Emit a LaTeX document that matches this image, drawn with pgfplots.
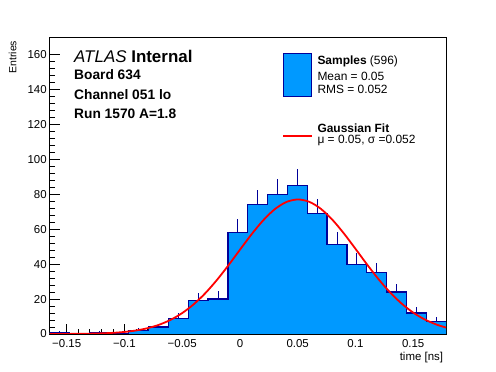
\documentclass[border=0pt]{standalone}
\usepackage{fontspec}
\setmainfont{Liberation Sans}
\usepackage{pgfplots}
\usepackage{pgfplotstable}
\pgfplotsset{compat=1.18}
\definecolor{histblue}{RGB}{0,153,255}
\definecolor{histline}{RGB}{0,0,153}
\definecolor{fitred}{RGB}{255,0,0}

\pgfplotstableread{
x y
-0.1649 1
-0.1477 0
-0.1306 1
-0.1134 0
-0.0963 2
-0.0791 4
-0.0619 9
-0.0448 19
-0.0276 20
-0.0104 58
0.0068 74
0.0239 80
0.0411 85
0.0582 69
0.0754 51
0.0926 40
0.1097 35
0.1269 24
0.1440 12
0.1612 7
0.1784 7
}\histdata

\pgfplotstableread{
x y e
-0.1563 1 1
-0.1220 1 1
-0.0877 2 1.41
-0.0705 4 2
-0.0534 9 3
-0.0362 19 4.36
-0.0190 20 4.47
-0.0019 58 7.62
0.0153 74 8.60
0.0325 80 8.94
0.0496 85 9.22
0.0668 69 8.31
0.0840 51 7.14
0.1011 40 6.32
0.1183 35 5.92
0.1354 24 4.90
0.1526 12 3.46
0.1698 7 2.65
}\errdata

\pgfplotstableread{
x y
-0.1649 0.015
-0.15 0.046
-0.14 0.095
-0.13 0.189
-0.12 0.361
-0.11 0.665
-0.10 1.18
-0.09 2.02
-0.08 3.33
-0.07 5.30
-0.06 8.12
-0.05 11.99
-0.04 17.04
-0.03 23.36
-0.02 30.88
-0.01 39.30
0.00 48.24
0.01 57.03
0.02 64.97
0.03 71.35
0.04 75.51
0.05 77.00
0.06 75.67
0.07 71.67
0.08 65.41
0.09 57.54
0.10 48.78
0.11 39.84
0.12 31.36
0.13 23.79
0.14 17.40
0.15 12.25
0.16 8.32
0.17 5.44
0.1784 3.70
}\fitdata

\begin{document}
\begin{tikzpicture}
\path[use as bounding box] (0,0) rectangle (496bp,372bp);
\begin{axis}[
  at={(49.5bp,38bp)}, anchor=south west,
  scale only axis, width=396.5bp, height=297bp,
  xmin=-0.1649, xmax=0.1784, ymin=0, ymax=170,
  xtick={-0.15,-0.1,-0.05,0,0.05,0.1,0.15},
  xticklabels={−0.15,−0.1,−0.05,0,0.05,0.1,0.15},
  ytick={0,20,...,160},
  minor x tick num=4, minor y tick num=4,
  xtick pos=bottom, ytick pos=left,
  tick align=inside,
  major tick length=10bp, minor tick length=5bp,
  axis line style={line width=0.8pt},
  every tick/.style={black, line width=0.8pt},
  /pgf/number format/assume math mode=true,
  ticklabel style={font=\fontsize{11.5}{12}\selectfont},
  xticklabel style={anchor=north, inner sep=0pt, yshift=-5.3bp},
  yticklabel style={anchor=east, inner sep=0pt, xshift=-2.6bp},
]
\addplot[const plot, fill=histblue, draw=none] table[x=x,y=y] {\histdata} \closedcycle;
\addplot[color=histline, draw=none, mark=none, forget plot,
  error bars/.cd, y dir=plus, y explicit, error mark=none,
  error bar style={draw=histline, solid, line width=0.8pt}] table[x=x,y=y,y error=e] {\errdata};
\addplot[const plot, draw=histline, line width=1.2pt] table[x=x,y=y] {\histdata};
\addplot[smooth, draw=fitred, line width=1.8pt] table[x=x,y=y] {\fitdata};
\end{axis}
% texts
\node[anchor=base west, inner sep=0pt, font=\fontsize{17}{20}\selectfont] at (74bp,309.3bp) {\textit{ATLAS} \textbf{Internal}};
\node[anchor=base west, inner sep=0pt, font=\fontsize{13.8}{16}\selectfont\bfseries] at (74bp,292bp) {Board 634};
\node[anchor=base west, inner sep=0pt, font=\fontsize{13.8}{16}\selectfont\bfseries] at (74bp,272bp) {Channel 051 lo};
\node[anchor=base west, inner sep=0pt, font=\fontsize{13.8}{16}\selectfont\bfseries] at (74bp,253.7bp) {Run 1570 A=1.8};
% legend
\draw[fill=histblue, draw=histline, line width=0.8pt] (283.3bp,276bp) rectangle (311.7bp,318.7bp);
\node[anchor=base west, inner sep=0pt, font=\fontsize{12}{14}\selectfont] at (317.3bp,307bp) {\textbf{Samples} (596)};
\node[anchor=base west, inner sep=0pt, font=\fontsize{12}{14}\selectfont] at (317.3bp,291.3bp) {Mean = 0.05};
\node[anchor=base west, inner sep=0pt, font=\fontsize{12}{14}\selectfont] at (317.3bp,278bp) {RMS = 0.052};
\fill[fitred] (283.3bp,235.2bp) rectangle (311.7bp,237.4bp);
\node[anchor=base west, inner sep=0pt, font=\fontsize{12}{14}\selectfont\bfseries] at (317.3bp,239.3bp) {Gaussian Fit};
\node[anchor=base west, inner sep=0pt, font=\fontsize{12}{14}\selectfont] at (317.3bp,228bp) {μ = 0.05, σ =0.052};
% axis titles
\node[rotate=90, anchor=east, inner sep=0pt, font=\fontsize{10.5}{12}\selectfont] at (12.7bp,331.3bp) {Entries};
\node[anchor=base east, inner sep=0pt, font=\fontsize{11.5}{13}\selectfont] at (443.3bp,12bp) {time [ns]};
\end{tikzpicture}
\end{document}
